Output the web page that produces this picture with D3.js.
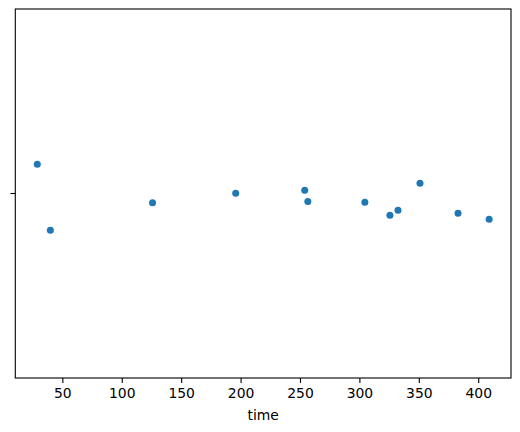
<!DOCTYPE html>
<html><head><meta charset="utf-8">
<script src="https://cdn.jsdelivr.net/npm/d3@7"></script>
<style>body{margin:0;background:#fff;} svg{display:block;}</style>
</head><body>
<svg id="chart" width="520" height="432"></svg>
<script>
const times = [28.9, 39.9, 125.9, 195.9, 254.0, 256.6, 304.6, 325.7, 332.5, 351.0, 383.0, 409.2];
const jitter = [-0.079, 0.0997, 0.025, -0.0005, -0.0087, 0.022, 0.024, 0.059, 0.0455, -0.0276, 0.0537, 0.070];
const categories = [""];
const xTicks = [50, 100, 150, 200, 250, 300, 350, 400];
const xLabel = "time";

const svg = d3.select("#chart");
const L = 15.3, R = 511, T = 9, B = 378;
const font = "DejaVu Sans, sans-serif";

const x = d3.scaleLinear().domain([10.4, 427.6]).range([L, R]);
const y = d3.scaleBand().domain(categories).range([T, B]).padding(0);

svg.append("g").selectAll("circle").data(times).join("circle")
  .attr("cx", d => x(d))
  .attr("cy", (d, i) => y(categories[0]) + y.bandwidth() / 2 + jitter[i] * y.bandwidth())
  .attr("r", 3.5)
  .attr("fill", "#1f77b4");

const xAxis = svg.append("g").attr("transform", `translate(0,${B})`)
  .call(d3.axisBottom(x).tickValues(xTicks).tickSize(4.9).tickPadding(4.9).tickFormat(d3.format("d")));
xAxis.select(".domain").remove();
xAxis.selectAll("line").attr("stroke", "#000").attr("stroke-width", 1.1);
xAxis.selectAll("text").attr("font-family", font).attr("font-size", 13.9).attr("fill", "#000");

const yAxis = svg.append("g").attr("transform", `translate(${L},0)`)
  .call(d3.axisLeft(y).tickSize(4.9).tickPadding(4.9));
yAxis.select(".domain").remove();
yAxis.selectAll("line").attr("stroke", "#000").attr("stroke-width", 1.1);
yAxis.selectAll("text").attr("font-family", font).attr("font-size", 13.9).attr("fill", "#000");

svg.append("rect").attr("x", L).attr("y", T).attr("width", R - L).attr("height", B - T)
  .attr("fill", "none").attr("stroke", "#000").attr("stroke-width", 1.1);

svg.append("text").attr("x", (L + R) / 2).attr("y", 420)
  .attr("text-anchor", "middle").attr("font-family", font).attr("font-size", 13.9)
  .attr("fill", "#000").text(xLabel);
</script>
</body></html>
